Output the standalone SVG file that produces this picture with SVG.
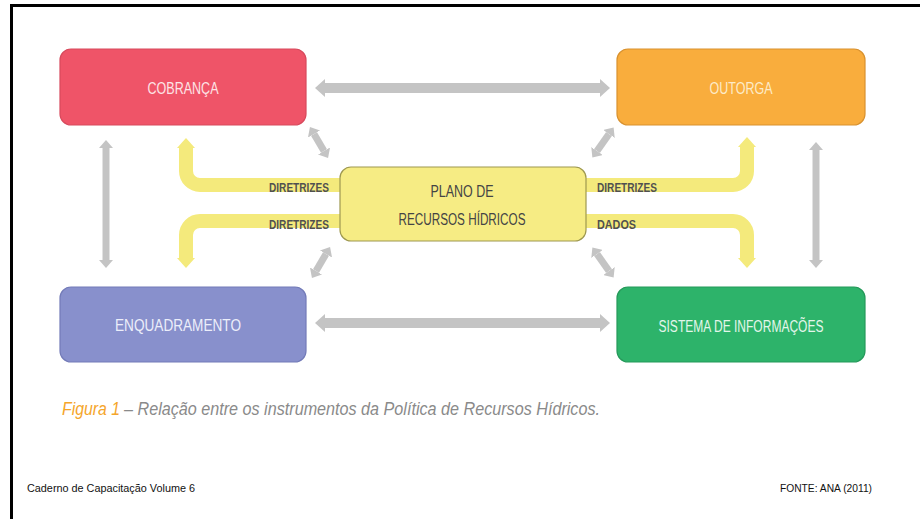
<svg xmlns="http://www.w3.org/2000/svg" width="920" height="519" viewBox="0 0 920 519">
<style>
.box{stroke-width:1.2}
.lbl{font-family:"Liberation Sans",Arial,sans-serif;font-size:16px;text-anchor:middle}
.tag{font-family:"Liberation Sans",Arial,sans-serif;font-size:13px;font-weight:bold;fill:#505050}
.gray{stroke:#c4c4c4;fill:none}
.yel{stroke:#f4ea7c;stroke-width:14;fill:none}
.foot{font-family:"Liberation Sans",Arial,sans-serif;font-size:10px;fill:#111111}
.cap{font-family:"Liberation Sans",Arial,sans-serif;font-size:18px;font-style:italic}
</style>
<defs>
<marker id="gL" markerUnits="userSpaceOnUse" markerWidth="10" markerHeight="18" refX="0" refY="9" orient="auto-start-reverse" viewBox="0 0 10 18"><path d="M0,0 L10,9 L0,18 z" fill="#c4c4c4"/></marker>
<marker id="gS" markerUnits="userSpaceOnUse" markerWidth="8" markerHeight="14" refX="0" refY="7" orient="auto-start-reverse" viewBox="0 0 8 14"><path d="M0,0 L8,7 L0,14 z" fill="#c4c4c4"/></marker>
<marker id="yH" markerUnits="userSpaceOnUse" markerWidth="10" markerHeight="18" refX="0" refY="9" orient="auto" viewBox="0 0 10 18"><path d="M0,0 L10,9 L0,18 z" fill="#f4ea7c"/></marker>
</defs>
<rect width="920" height="519" fill="#ffffff"/>
<path d="M11.5,519 V5.5 H920" stroke="#000" stroke-width="3" fill="none"/>

<g id="connectors">
<line class="gray" x1="325" y1="88" x2="600" y2="88" stroke-width="10" marker-start="url(#gL)" marker-end="url(#gL)"/>
<line class="gray" x1="325" y1="323" x2="600" y2="323" stroke-width="10" marker-start="url(#gL)" marker-end="url(#gL)"/>
<line class="gray" x1="106" y1="148" x2="106" y2="260" stroke-width="7" marker-start="url(#gS)" marker-end="url(#gS)"/>
<line class="gray" x1="816" y1="150" x2="816" y2="260" stroke-width="7" marker-start="url(#gS)" marker-end="url(#gS)"/>
<line class="gray" x1="314" y1="134" x2="324" y2="151" stroke-width="7" marker-start="url(#gS)" marker-end="url(#gS)"/>
<line class="gray" x1="609" y1="134" x2="597" y2="151" stroke-width="7" marker-start="url(#gS)" marker-end="url(#gS)"/>
<line class="gray" x1="326" y1="254" x2="316" y2="271" stroke-width="7" marker-start="url(#gS)" marker-end="url(#gS)"/>
<line class="gray" x1="597" y1="254" x2="609" y2="271" stroke-width="7" marker-start="url(#gS)" marker-end="url(#gS)"/>
<path class="yel" d="M340,185 H200 A14,14 0 0 1 186,171 V148" marker-end="url(#yH)"/>
<path class="yel" d="M340,221 H200 A14,14 0 0 0 186,235 V258" marker-end="url(#yH)"/>
<path class="yel" d="M586,185 H733 A14,14 0 0 0 747,171 V147" marker-end="url(#yH)"/>
<path class="yel" d="M586,221 H733 A14,14 0 0 1 747,235 V258" marker-end="url(#yH)"/>
<text class="tag" x="269" y="192" textLength="60" lengthAdjust="spacingAndGlyphs">DIRETRIZES</text>
<text class="tag" x="269" y="229" textLength="60" lengthAdjust="spacingAndGlyphs">DIRETRIZES</text>
<text class="tag" x="597" y="192" textLength="60" lengthAdjust="spacingAndGlyphs">DIRETRIZES</text>
<text class="tag" x="597" y="229" textLength="39" lengthAdjust="spacingAndGlyphs">DADOS</text>
</g>

<g id="cobranca">
<rect class="box" x="60" y="49" width="246" height="76" rx="11" fill="#ef5468" stroke="#d84a5d"/>
<text class="lbl" x="183" y="94" fill="#fde3e5" textLength="71" lengthAdjust="spacingAndGlyphs">COBRANÇA</text>
</g>
<g id="outorga">
<rect class="box" x="617" y="49" width="248" height="76" rx="11" fill="#f9ad3d" stroke="#d9922f"/>
<text class="lbl" x="741" y="94" fill="#fdebc8" textLength="63" lengthAdjust="spacingAndGlyphs">OUTORGA</text>
</g>
<g id="plano">
<rect class="box" x="340" y="167" width="246" height="74" rx="11" fill="#f6ec84" stroke="#9e9850"/>
<text class="lbl" x="462" y="197" fill="#444444" textLength="63" lengthAdjust="spacingAndGlyphs">PLANO DE</text>
<text class="lbl" x="462" y="225" fill="#444444" textLength="127" lengthAdjust="spacingAndGlyphs">RECURSOS HÍDRICOS</text>
</g>
<g id="enquadramento">
<rect class="box" x="60" y="287" width="246" height="75" rx="11" fill="#8890cc" stroke="#737bb8"/>
<text class="lbl" x="178" y="331" fill="#eceefa" textLength="126" lengthAdjust="spacingAndGlyphs">ENQUADRAMENTO</text>
</g>
<g id="sistema">
<rect class="box" x="617" y="287" width="248" height="75" rx="11" fill="#2db36a" stroke="#25995a"/>
<text class="lbl" x="741" y="332" fill="#e3f6ea" textLength="165" lengthAdjust="spacingAndGlyphs">SISTEMA DE INFORMAÇÕES</text>
</g>

<text class="cap" x="62" y="415" fill="#f5a52a" textLength="58" lengthAdjust="spacingAndGlyphs">Figura 1</text>
<text class="cap" x="124" y="415" fill="#8a8a8a" textLength="476" lengthAdjust="spacingAndGlyphs">– Relação entre os instrumentos da Política de Recursos Hídricos.</text>
<text class="foot" x="27" y="492" textLength="168" lengthAdjust="spacingAndGlyphs">Caderno de Capacitação Volume 6</text>
<text class="foot" x="780" y="492" textLength="92" lengthAdjust="spacingAndGlyphs">FONTE: ANA (2011)</text>
</svg>
